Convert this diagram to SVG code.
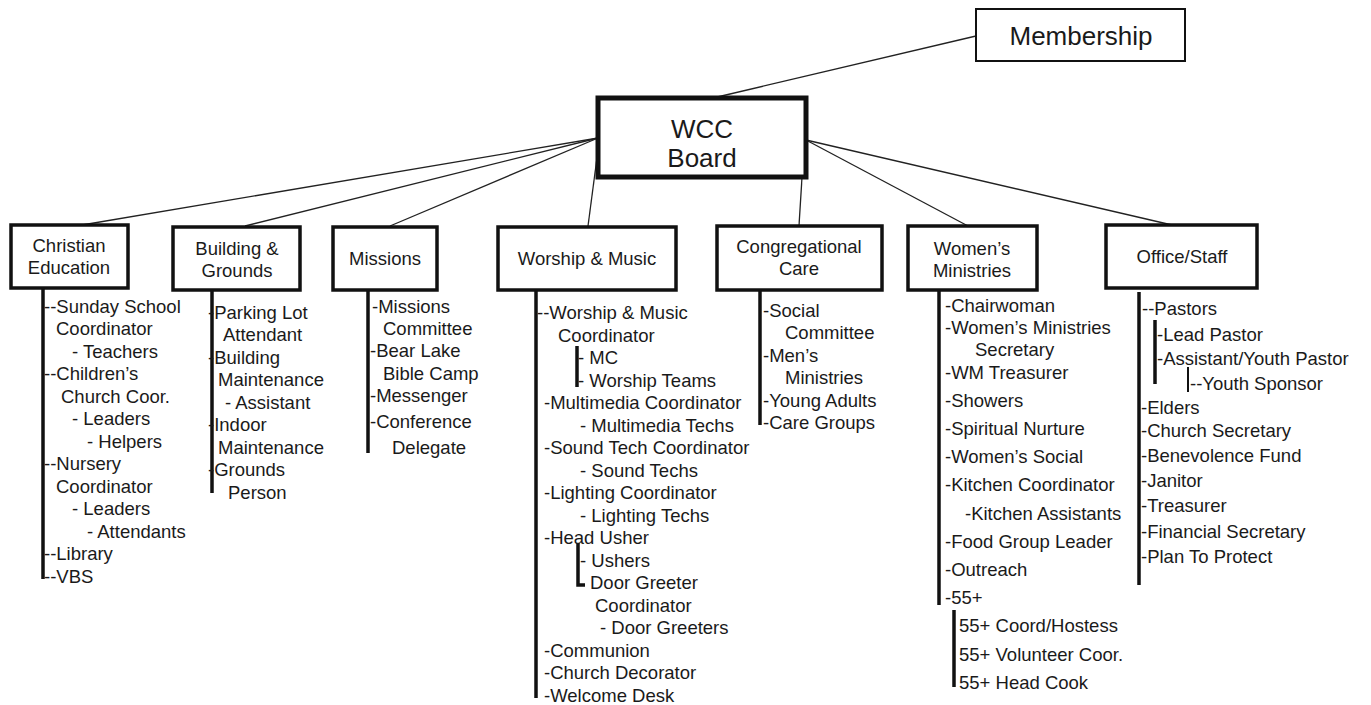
<svg xmlns="http://www.w3.org/2000/svg" width="1371" height="705" viewBox="0 0 1371 705">
<style>
text{font-family:"Liberation Sans",Arial,sans-serif;fill:#1a1a1a}
.t{font-size:18.5px}
.b{font-size:18.5px;text-anchor:middle}
.big{font-size:26px;text-anchor:middle}
.box{fill:#fff;stroke:#111;stroke-width:3.5}
.top{fill:#fff;stroke:#111;stroke-width:5}
.mem{fill:#fff;stroke:#111;stroke-width:2}
.con{stroke:#222;stroke-width:1.3;fill:none}
.spine{stroke:#111;stroke-width:3.5;fill:none}
.thin{stroke:#111;stroke-width:2;fill:none}
</style>
<rect width="1371" height="705" fill="#fff"/>
<g id="connectors">
<line class="con" x1="976" y1="36" x2="713" y2="98"/>
<line class="con" x1="598" y1="138" x2="82" y2="225"/>
<line class="con" x1="598" y1="138" x2="245" y2="226"/>
<line class="con" x1="598" y1="138" x2="390" y2="226"/>
<line class="con" x1="598" y1="150" x2="588" y2="226"/>
<line class="con" x1="802" y1="177" x2="799" y2="226"/>
<line class="con" x1="806" y1="140" x2="968" y2="226"/>
<line class="con" x1="806" y1="140" x2="1172" y2="225"/>
</g>
<g id="membership">
<rect class="mem" x="976" y="9" width="209" height="52"/>
<text class="big" x="1081" y="45">Membership</text>
</g>
<g id="wcc-board">
<rect class="top" x="598" y="98" width="208" height="79"/>
<text class="big" x="702" y="138">WCC</text>
<text class="big" x="702" y="167">Board</text>
</g>
<g id="christian-education">
<rect class="box" x="11" y="225" width="117" height="63"/>
<text class="b" x="69" y="252">Christian</text>
<text class="b" x="69" y="274">Education</text>
<line class="spine" x1="43" y1="288" x2="43" y2="579"/>
<text class="t" x="44" y="312.5">--Sunday School</text>
<text class="t" x="56" y="335">Coordinator</text>
<text class="t" x="72" y="357.5">- Teachers</text>
<text class="t" x="44" y="380">--Children’s</text>
<text class="t" x="61" y="402.5">Church Coor.</text>
<text class="t" x="72" y="425">- Leaders</text>
<text class="t" x="87" y="447.5">- Helpers</text>
<text class="t" x="44" y="470">--Nursery</text>
<text class="t" x="56" y="492.5">Coordinator</text>
<text class="t" x="72" y="515">- Leaders</text>
<text class="t" x="87" y="537.5">- Attendants</text>
<text class="t" x="44" y="560">--Library</text>
<text class="t" x="44" y="582.5">--VBS</text>
</g>
<g id="building-grounds">
<rect class="box" x="173" y="227" width="127" height="63"/>
<text class="b" x="237" y="255">Building &amp;</text>
<text class="b" x="237" y="277">Grounds</text>
<line class="spine" x1="212" y1="290" x2="212" y2="493"/>
<text class="t" x="208" y="318.5">-Parking Lot</text>
<text class="t" x="223" y="341">Attendant</text>
<text class="t" x="208" y="363.5">-Building</text>
<text class="t" x="218" y="386">Maintenance</text>
<text class="t" x="225" y="408.5">- Assistant</text>
<text class="t" x="208" y="431">-Indoor</text>
<text class="t" x="218" y="453.5">Maintenance</text>
<text class="t" x="208" y="476">-Grounds</text>
<text class="t" x="228" y="498.5">Person</text>
</g>
<g id="missions">
<rect class="box" x="333" y="227" width="104" height="63"/>
<text class="b" x="385" y="265">Missions</text>
<line class="spine" x1="368" y1="290" x2="368" y2="453"/>
<text class="t" x="372" y="312.5">-Missions</text>
<text class="t" x="383" y="334.5">Committee</text>
<text class="t" x="370" y="356.5">-Bear Lake</text>
<text class="t" x="383" y="379.5">Bible Camp</text>
<text class="t" x="370" y="401.5">-Messenger</text>
<text class="t" x="370" y="427.5">-Conference</text>
<text class="t" x="392" y="453.5">Delegate</text>
</g>
<g id="worship-music">
<rect class="box" x="498" y="227" width="178" height="63"/>
<text class="b" x="587" y="265">Worship &amp; Music</text>
<line class="spine" x1="536" y1="290" x2="536" y2="698"/>
<path class="spine" d="M577 346V387"/>
<path class="spine" d="M578 543V585H585"/>
<text class="t" x="537" y="319">--Worship &amp; Music</text>
<text class="t" x="558" y="341.5">Coordinator</text>
<text class="t" x="578" y="364">- MC</text>
<text class="t" x="578" y="386.5">- Worship Teams</text>
<text class="t" x="544" y="409">-Multimedia Coordinator</text>
<text class="t" x="580" y="431.5">- Multimedia Techs</text>
<text class="t" x="544" y="454">-Sound Tech Coordinator</text>
<text class="t" x="580" y="476.5">- Sound Techs</text>
<text class="t" x="544" y="499">-Lighting Coordinator</text>
<text class="t" x="580" y="521.5">- Lighting Techs</text>
<text class="t" x="544" y="544">-Head Usher</text>
<text class="t" x="580" y="566.5">- Ushers</text>
<text class="t" x="590" y="589">Door Greeter</text>
<text class="t" x="595" y="611.5">Coordinator</text>
<text class="t" x="600" y="634">- Door Greeters</text>
<text class="t" x="544" y="656.5">-Communion</text>
<text class="t" x="544" y="679">-Church Decorator</text>
<text class="t" x="544" y="701.5">-Welcome Desk</text>
</g>
<g id="congregational-care">
<rect class="box" x="717" y="226" width="165" height="64"/>
<text class="b" x="799" y="253">Congregational</text>
<text class="b" x="799" y="275">Care</text>
<line class="spine" x1="760" y1="290" x2="760" y2="425"/>
<text class="t" x="763" y="316.5">-Social</text>
<text class="t" x="785" y="338.5">Committee</text>
<text class="t" x="763" y="361.5">-Men’s</text>
<text class="t" x="785" y="383.5">Ministries</text>
<text class="t" x="763" y="406.5">-Young Adults</text>
<text class="t" x="763" y="428.5">-Care Groups</text>
</g>
<g id="womens-ministries">
<rect class="box" x="908" y="226" width="129" height="64"/>
<text class="b" x="972" y="255">Women’s</text>
<text class="b" x="972" y="277">Ministries</text>
<line class="spine" x1="939" y1="290" x2="939" y2="605"/>
<line class="spine" x1="954" y1="610" x2="954" y2="687"/>
<text class="t" x="945" y="311.5">-Chairwoman</text>
<text class="t" x="945" y="333.5">-Women’s Ministries</text>
<text class="t" x="975" y="355.5">Secretary</text>
<text class="t" x="945" y="378.5">-WM Treasurer</text>
<text class="t" x="945" y="406.5">-Showers</text>
<text class="t" x="945" y="434.5">-Spiritual Nurture</text>
<text class="t" x="945" y="462.5">-Women’s Social</text>
<text class="t" x="945" y="490.5">-Kitchen Coordinator</text>
<text class="t" x="965" y="519.5">-Kitchen Assistants</text>
<text class="t" x="945" y="547.5">-Food Group Leader</text>
<text class="t" x="945" y="575.5">-Outreach</text>
<text class="t" x="945" y="603.5">-55+</text>
<text class="t" x="959" y="631.5">55+ Coord/Hostess</text>
<text class="t" x="959" y="660.5">55+ Volunteer Coor.</text>
<text class="t" x="959" y="688.5">55+ Head Cook</text>
</g>
<g id="office-staff">
<rect class="box" x="1106" y="225" width="151" height="63"/>
<text class="b" x="1182" y="263">Office/Staff</text>
<line class="spine" x1="1139" y1="292" x2="1139" y2="585"/>
<line class="spine" x1="1155" y1="320" x2="1155" y2="384"/>
<line class="thin" x1="1188" y1="367" x2="1188" y2="392"/>
<text class="t" x="1142" y="314.5">--Pastors</text>
<text class="t" x="1157" y="340.5">-Lead Pastor</text>
<text class="t" x="1157" y="364.5">-Assistant/Youth Pastor</text>
<text class="t" x="1190" y="389.5">--Youth Sponsor</text>
<text class="t" x="1141" y="413.5">-Elders</text>
<text class="t" x="1141" y="436.5">-Church Secretary</text>
<text class="t" x="1141" y="461.5">-Benevolence Fund</text>
<text class="t" x="1141" y="486.5">-Janitor</text>
<text class="t" x="1141" y="511.5">-Treasurer</text>
<text class="t" x="1141" y="537.5">-Financial Secretary</text>
<text class="t" x="1141" y="562.5">-Plan To Protect</text>
</g>
</svg>
